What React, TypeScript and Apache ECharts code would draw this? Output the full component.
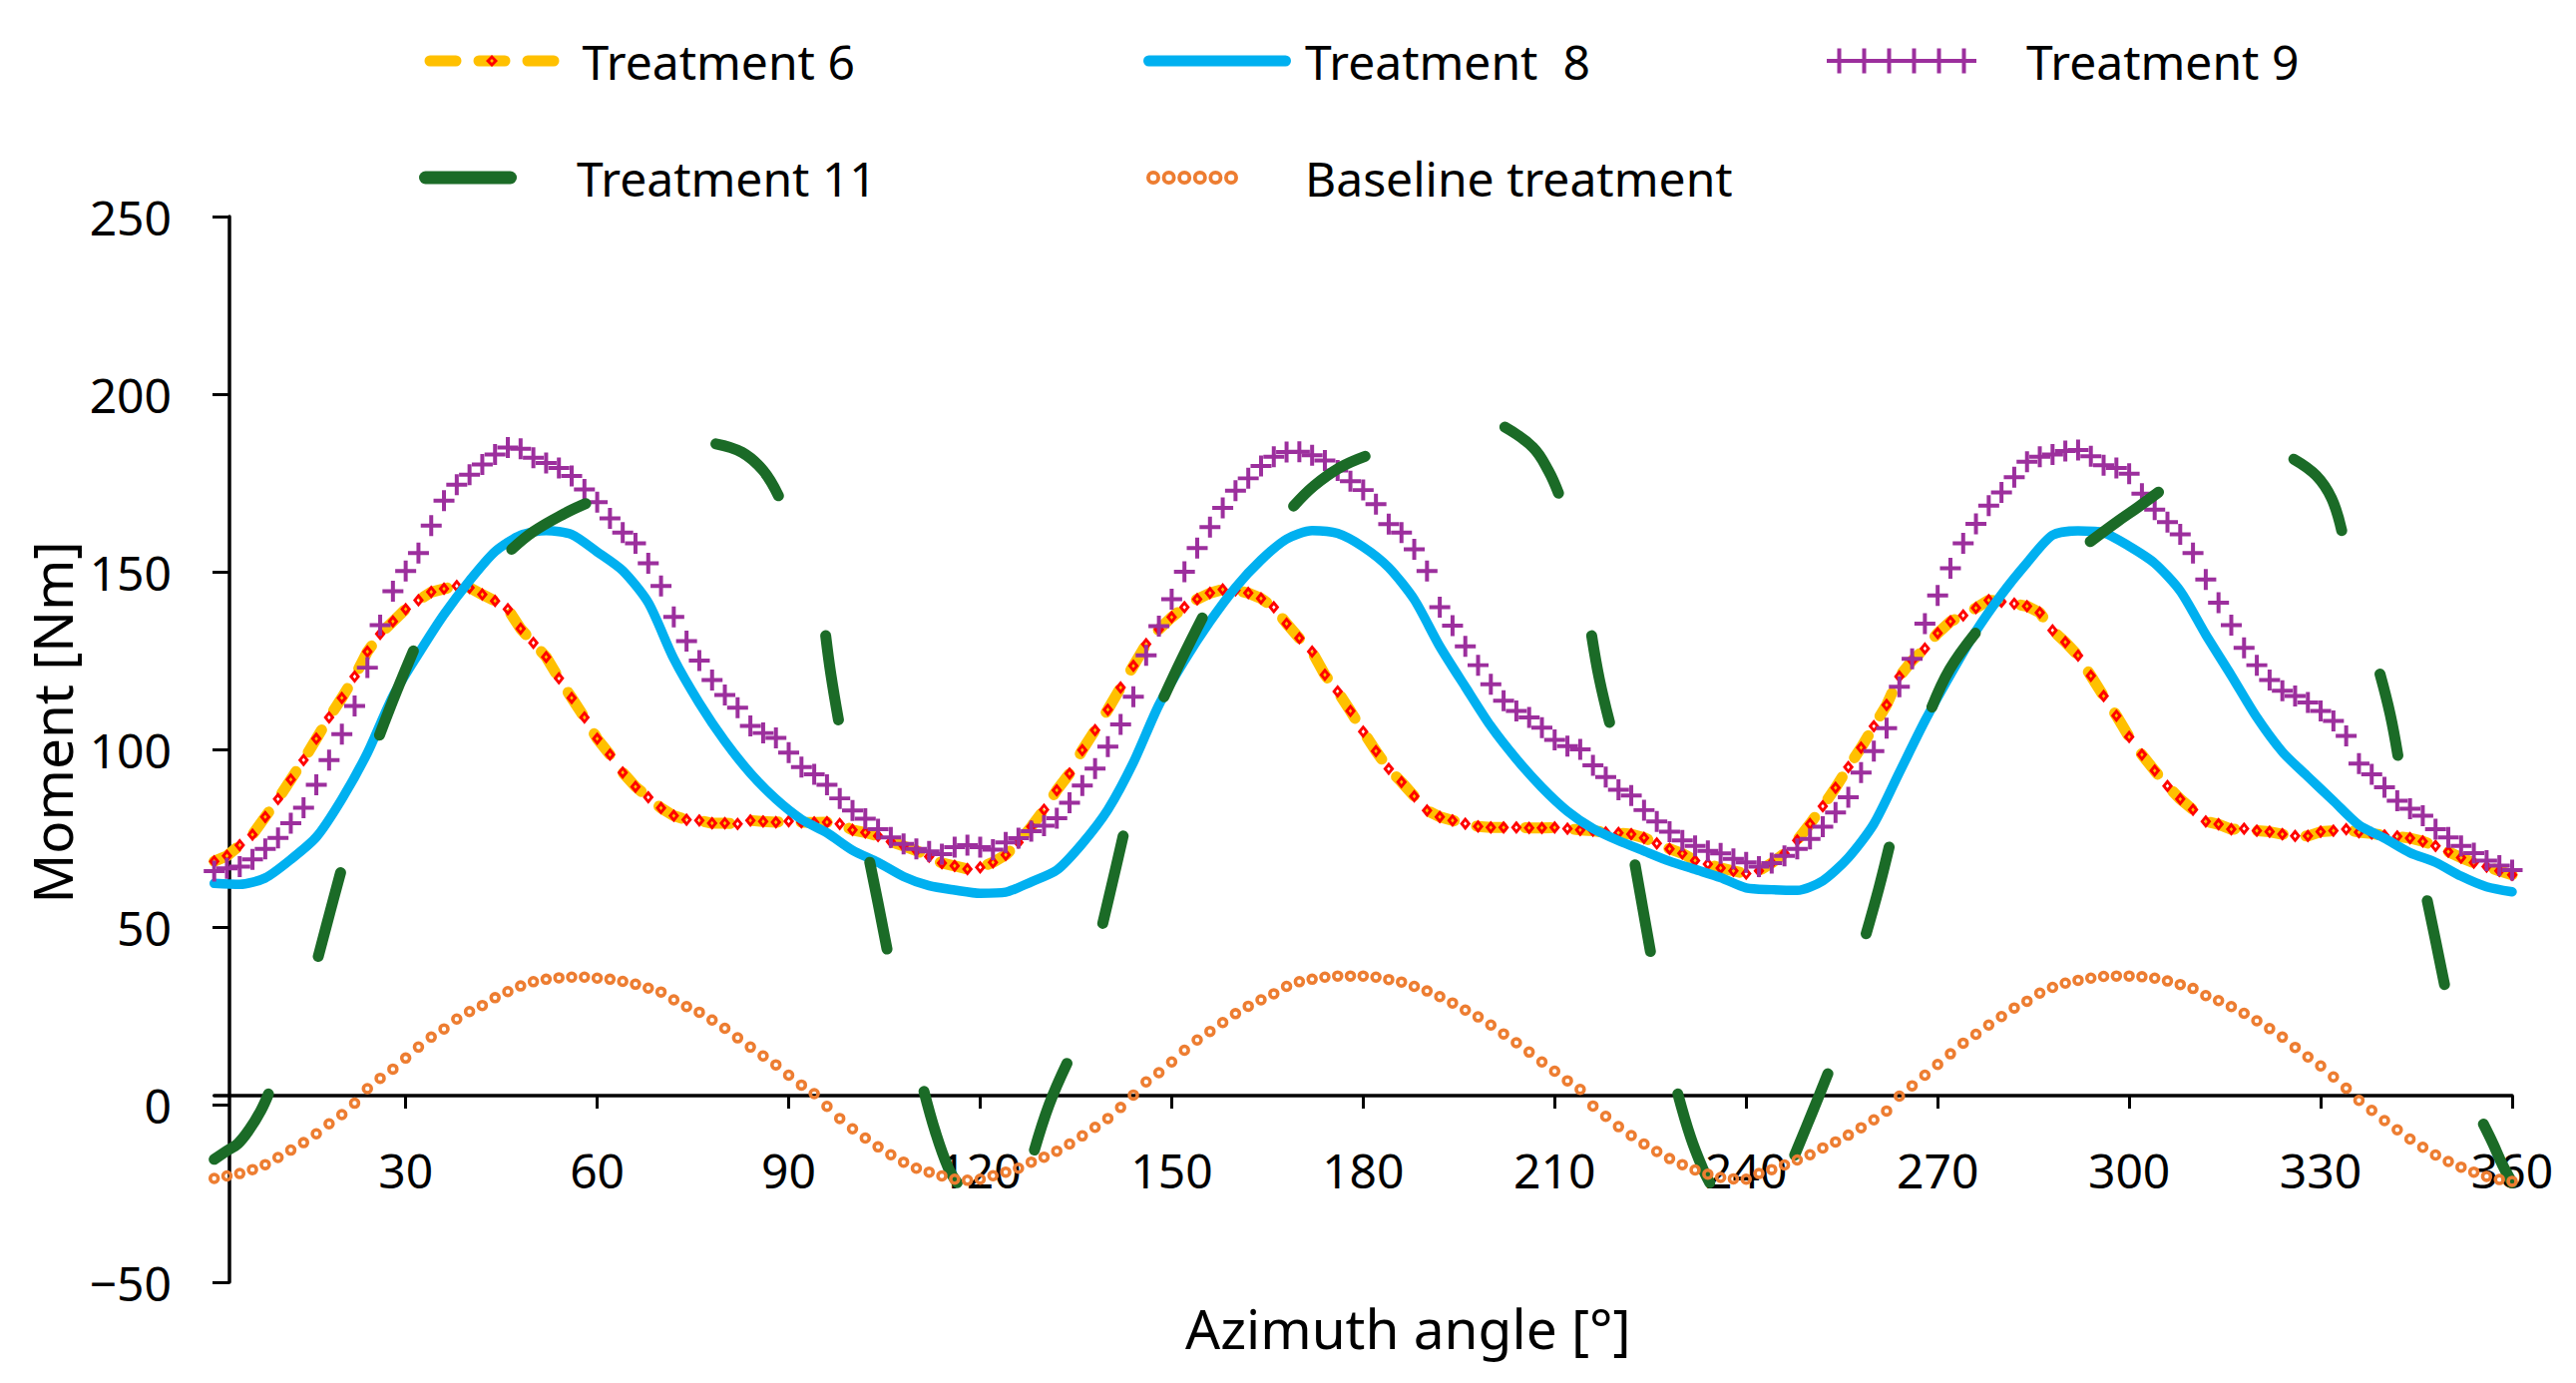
import React, { useEffect, useRef } from "react";
import * as echarts from "echarts";

// x positions (degrees) of sampled points
const ANGLES_2 = Array.from({ length: 181 }, (_, i) => i * 2);
const ANGLES_4 = Array.from({ length: 91 }, (_, i) => i * 4);
const X_TICKS = [30, 60, 90, 120, 150, 180, 210, 240, 270, 300, 330, 360];

// Treatment 6 (every 2 deg)
const T6 = [
  68.5, 70, 73, 76, 81, 86, 91.5, 97, 103, 109, 114.5, 120.5, 127.5, 132.5, 136, 139.5, 142, 144.3, 145.2, 146,
  145.5, 143.6, 141.8, 139.5, 134, 130, 126, 120, 114.5, 109, 103, 98.5, 93.5, 89.5, 86.5, 83.5, 81.3, 80.2, 80, 79.2,
  79.2, 79, 80, 79.7, 79.5, 79.8, 79.5, 79.4, 79.5, 79, 77.3, 76.6, 75.6, 74, 72.8, 71.5, 69.8, 68, 67.2, 66.3, 66.8,
  68.2, 70.3, 73.8, 78.2, 83, 88.5, 93.2, 99.8, 105.4, 111.2, 117.4, 123.5, 129.6, 133.8, 137.2, 140, 142.3, 144, 145, 144.8,
  144, 142.5, 140, 135.4, 131.3, 127.5, 121, 116.3, 110.8, 105, 99.5, 94.5, 90.8, 86.8, 82.8, 81, 80, 79.1, 78.3, 78,
  78, 78, 77.9, 77.9, 78, 77.7, 77.3, 77.1, 76.6, 76.5, 76.1, 75.1, 73.5, 72, 70.7, 68.7, 67.7, 66.6, 65.8, 65,
  65.8, 68, 70.7, 74.4, 79, 84, 89.2, 95, 100.5, 106.5, 112.5, 120.5, 125, 128.4, 132.7, 136, 137.7, 139.8, 142, 141.6,
  141, 140.3, 138.5, 133.5, 130.2, 126.4, 120.7, 115, 109.5, 103.5, 98.5, 94, 89.7, 86, 83, 79.7, 78.9, 77.5, 77.7, 77.1,
  76.8, 76.1, 75.6, 75.6, 76.8, 77.1, 77.5, 76.7, 76.3, 75.8, 75.5, 75, 74.1, 72.8, 71.2, 69.5, 68.1, 67, 65.8, 64.7,
];

// Treatment 8 (every 4 deg)
const T8 = [
  62.3, 62, 63.8, 69, 75.3, 86, 99, 115, 126.9, 138, 147.5, 155.7, 160.3, 161.6, 160.5, 155.6, 150.3, 141.3, 125.5, 113,
  102.3, 93.3, 86, 80.3, 76.5, 71.6, 68.2, 64.2, 61.6, 60.4, 59.5,
  59.8, 62.7, 66, 73.5, 83, 96.3, 112.5, 125, 136, 145.6, 153.3, 159.2, 161.6, 160.8, 157, 151.2, 142.2, 129, 117.6, 106.5,
  97.3, 89.3, 82.6, 77.7, 74.3, 71.4, 68.5, 66.2, 63.9, 61,
  60.5, 60.3, 63, 69.5, 79, 93.5, 108, 121, 133.3, 143.6, 152.5, 160.3, 161.5, 161, 157.2, 152.4, 144.6, 132.3, 120.8, 109,
  99.3, 92.3, 85.5, 78.7, 75, 70.9, 68.2, 64.3, 61.3, 59.9,
];

// Treatment 9 (every 2 deg)
const T9 = [
  65.7, 66.5, 67, 69, 72, 75.1, 79.2, 83.6, 90, 97, 104.3, 112.2, 123, 135, 144.5, 150.2, 155.3, 163, 170, 174.5,
  177.3, 180.2, 183, 185, 184.6, 182.1, 180.6, 179.2, 177, 173.2, 169.6, 165, 161, 158, 152.4, 146, 137.3, 130.5, 125, 119.5,
  115.3, 111.7, 106.6, 104.6, 103.2, 99.1, 95, 93, 90, 86.2, 82.8, 80.5, 77.5, 75.2, 73.4, 72, 71.3, 70.5, 72.5, 73, 72.5,
  71.8, 73.8, 75, 77, 78.5, 80.6, 85, 89.8, 94.6, 100.8, 107, 114.8, 126.5, 134.7, 142.3, 150, 156.7, 162.6, 168, 172.8,
  176.3, 179.8, 182.4, 183.7, 183.8, 182.8, 181.3, 178.5, 175.5, 173, 169, 163.4, 161, 156.3, 150.2, 140, 134.8, 129, 123.7, 118.3,
  113.7, 110.8, 109, 106.1, 102.7, 100.9, 100, 95.5, 92.2, 88.6, 87, 82.9, 79.7, 76.8, 74.4, 72.8, 71.4, 70.7, 69.2, 68.2,
  67, 68, 70, 72, 74.8, 78.2, 82.2, 86.5, 93.5, 99.5, 106, 117.6, 125.5, 135.4, 143.3, 151, 158, 163.5, 168.6, 172.3,
  176.6, 181, 182.4, 183, 184, 184.3, 182.5, 180, 179.2, 177.6, 172, 167.5, 164, 160.5, 155.3, 147.8, 141.3, 135, 128.6, 123.7,
  119.5, 116.5, 115, 113.2, 110.8, 108, 103.8, 96, 93, 89.3, 85.5, 83.3, 81.3, 77.5, 75.2, 72.8, 70.8, 68.7, 67.3, 66,
];

// Baseline treatment (every 2 deg)
const BASELINE = [
  -20.8, -20.1, -19.4, -18.3, -16.9, -14.9, -12.8, -10.7, -8.2, -5.4, -2.8, 0.4, 4.5, 7.4, 10, 13.1, 16.2, 19, 21.3, 24.1,
  26.2, 27.9, 30.1, 31.8, 33.4, 34.6, 35.3, 35.7, 35.9, 35.9, 35.6, 35.3, 34.7, 33.9, 32.8, 31.7, 29.5, 27.6, 26, 23.8,
  21.5, 18.8, 16.2, 13.7, 11.2, 8.3, 5.5, 3.1, -0.5, -3.9, -6.8, -9.4, -11.9, -14.1, -16.2, -17.9, -19, -20.1, -21, -21.3, -21,
  -20, -19, -17.9, -16.2, -14.8, -13.1, -11.1, -8.8, -6.4, -3.9, -0.8, 2.7, 6.4, 9, 12, 15.3, 18.2, 20.6, 23.1, 25.6,
  27.7, 29.5, 31.2, 33.3, 34.6, 35.3, 35.9, 36.2, 36.2, 36.2, 35.9, 35.2, 34.5, 33.3, 32, 30.4, 28.6, 26.6, 24.7, 22.4,
  19.9, 17.4, 14.8, 12, 9.4, 6.7, 4.3, -0.4, -3.3, -6.2, -8.7, -11.1, -13.2, -15.2, -16.9, -18.4, -19.6, -20.5, -20.9, -21,
  -19.4, -18.3, -17, -15.6, -14.1, -12.2, -10.5, -8.6, -6.5, -4.3, -1.8, 2.4, 5.3, 8.3, 11.3, 14.3, 17.3, 19.8, 22.4, 24.8,
  27.2, 29.1, 31.4, 33, 34.2, 35, 35.6, 36.1, 36.2, 36.2, 36, 35.6, 34.8, 33.8, 32.7, 30.7, 29.3, 27.6, 25.7, 23.6,
  21.4, 19, 16.1, 13.4, 10.9, 7.8, 4.6, 1.2, -1.6, -4.5, -7.1, -9.7, -12, -14.2, -16, -17.6, -19, -20.2, -21.1, -21.6,
];

// Treatment 11: visible pieces of the long-dash curve, [angle, moment]
const T11_SEGMENTS = [
  [[0, -15.4], [2, -13], [3.7, -11], [5.5, -7], [7.3, -1.7], [8.5, 3]],
  [[16.3, 41.7], [18.1, 53.9], [19.8, 65.3]],
  [[25.9, 104], [28.5, 116], [31.2, 127.7]],
  [[46.6, 156.3], [50, 161.3], [54.9, 166.4], [58.2, 169.2]],
  [[78.6, 186], [82.7, 183.6], [86, 178.5], [88.4, 171.4]],
  [[95.8, 132], [96.6, 121.2], [97.8, 108.3]],
  [[102.7, 68.2], [104, 56.7], [105.4, 43.8]],
  [[111.2, 3.7], [113, -7.8], [115, -17.8], [116.4, -22]],
  [[128.5, -12.8], [130.8, 0], [133.6, 11.6]],
  [[139.2, 51], [140.8, 63.2], [142.4, 75.6]],
  [[148.8, 114.8], [151.6, 125.5], [154.8, 137]],
  [[169.1, 168.5], [172.3, 174.2], [176.3, 179.3], [180.3, 182.5]],
  [[202.2, 190.7], [206.6, 185], [209, 178.5], [210.6, 172.1]],
  [[215.8, 132], [217, 119.8], [218.6, 107.6]],
  [[222.6, 67.5], [223.8, 55.3], [225, 43.1]],
  [[229.3, 3], [231.3, -9.2], [233.2, -18], [234.3, -22]],
  [[247.6, -14.2], [250.4, -2], [252.8, 8.7]],
  [[258.8, 48.1], [260.8, 61], [262.4, 72.5]],
  [[269.1, 111.9], [271.9, 122.6], [275.9, 132.7]],
  [[293.9, 158.5], [298.2, 164.2], [301.4, 168.2], [304.6, 172.4]],
  [[325.8, 181.7], [329.3, 177.1], [331.7, 170.7], [333.3, 161.6]],
  [[339.3, 121.2], [340.9, 109.8], [342.1, 98.3]],
  [[346.7, 57.4], [348.1, 45.3], [349.4, 33.8]],
  [[355.5, -5.5], [357, -11], [358.5, -17], [360, -22]],
];

const COLORS = {
  t6Line: "#FFC000",
  t6Marker: "#FF0000",
  t8: "#00B0F0",
  t9: "#9C2F9D",
  t11: "#1B6B27",
  base: "#ED7D31",
};

const FONT = "Noto Sans";

function pair(xs: number[], ys: number[]) {
  return ys.map((y, i) => [xs[i], y]);
}

function withBreaks(segs: number[][][]) {
  const out: (number | null)[][] = [];
  segs.forEach((s, i) => {
    if (i > 0) {
      const prev = segs[i - 1];
      out.push([(prev[prev.length - 1][0] + s[0][0]) / 2, null]);
    }
    s.forEach((p) => out.push(p));
  });
  return out;
}

// legend icon shapes
function roundedBar(w: number, h: number) {
  const r = h / 2;
  return `path://M${r},0H${w - r}A${r},${r} 0 0 1 ${w - r},${h}H${r}A${r},${r} 0 0 1 ${r},0Z`;
}
function plusRow(n: number, s: number, t: number) {
  let d = "";
  const c = (s - t) / 2;
  const e = (s + t) / 2;
  for (let i = 0; i < n; i++) {
    const x0 = i * s;
    const a = x0 + c;
    const b = x0 + e;
    d += `M${a},0H${b}V${c}H${x0 + s}V${e}H${b}V${s}H${a}V${e}H${x0}V${c}H${a}Z`;
  }
  return "path://" + d;
}
function ringRow(n: number, dia: number, gap: number, thick: number) {
  let d = "";
  const r = dia / 2;
  const ri = r - thick;
  for (let i = 0; i < n; i++) {
    const cx = r + i * (dia + gap);
    d += `M${cx - r},${r}A${r},${r} 0 1 1 ${cx + r},${r}A${r},${r} 0 1 1 ${cx - r},${r}Z`;
    d += `M${cx - ri},${r}A${ri},${ri} 0 1 0 ${cx + ri},${r}A${ri},${ri} 0 1 0 ${cx - ri},${r}Z`;
  }
  return "path://" + d;
}

// marker shapes (hollow, drawn as filled outlines so the outline weight is kept)
const PLUS_SYMBOL = "path://M8.1,0H11.9V8.1H20V11.9H11.9V20H8.1V11.9H0V8.1H8.1Z";
const DIAMOND_SYMBOL = "path://M5,0L10,6.5L5,13L0,6.5Z M5,4.4L3.4,6.5L5,8.6L6.6,6.5Z";
const RING_SYMBOL = "path://M0,6A6,6 0 1 1 12,6A6,6 0 1 1 0,6Z M3.7,6A2.3,2.3 0 1 0 8.3,6A2.3,2.3 0 1 0 3.7,6Z";

const legendText = (padLeft: number) => ({
  fontSize: 48,
  color: "#000",
  fontFamily: FONT,
  lineHeight: 56,
  padding: [0, 0, 10, padLeft],
});

const ROW1_TOP = 28;
const ROW2_TOP = 145;

const option = {
  animation: false,
  backgroundColor: "#ffffff",
  textStyle: { fontFamily: FONT },
  grid: { left: 214.7, right: 64, top: 217, bottom: 101 },
  legend: [
    {
      data: ["Treatment 6"],
      left: 425.5,
      top: ROW1_TOP,
      padding: 0,
      selectedMode: false,
      itemWidth: 124,
      itemHeight: 15,
      lineStyle: { width: 11 },
      itemStyle: { borderWidth: 0 },
      textStyle: legendText(23.5),
    },
    {
      data: ["Treatment  8"],
      left: 1146,
      top: ROW1_TOP,
      padding: 0,
      selectedMode: false,
      itemWidth: 148,
      itemHeight: 11,
      icon: roundedBar(148, 11),
      itemStyle: { borderWidth: 0 },
      textStyle: legendText(9),
    },
    {
      data: ["Treatment 9"],
      left: 1831,
      top: ROW1_TOP,
      padding: 0,
      selectedMode: false,
      itemWidth: 150,
      itemHeight: 25,
      icon: plusRow(6, 25, 4),
      itemStyle: { borderWidth: 0 },
      textStyle: legendText(45),
    },
    {
      data: ["Treatment 11"],
      left: 420,
      top: ROW2_TOP,
      padding: 0,
      selectedMode: false,
      itemWidth: 98,
      itemHeight: 13,
      icon: roundedBar(98, 13),
      itemStyle: { borderWidth: 0 },
      textStyle: legendText(55),
    },
    {
      data: ["Baseline treatment"],
      left: 1149,
      top: ROW2_TOP,
      padding: 0,
      selectedMode: false,
      itemWidth: 92,
      itemHeight: 14,
      icon: ringRow(6, 14, 1.6, 3.8),
      itemStyle: { borderWidth: 0 },
      textStyle: legendText(62),
    },
  ],
  xAxis: {
    type: "value",
    min: 0,
    max: 360,
    interval: 30,
    position: "bottom",
    offset: -187,
    name: "Azimuth angle [°]",
    nameLocation: "middle",
    nameGap: 205,
    nameTextStyle: { fontSize: 55, color: "#000", fontFamily: FONT, padding: [0, 0, 0, 90] },
    axisLine: { onZero: false, lineStyle: { color: "#000", width: 3.5 } },
    axisTick: { show: true, length: 13, lineStyle: { color: "#000", width: 3 }, customValues: X_TICKS },
    axisLabel: {
      fontSize: 48,
      color: "#000",
      fontFamily: FONT,
      margin: 50,
      customValues: X_TICKS,
    },
    splitLine: { show: false },
  },
  yAxis: {
    type: "value",
    min: -50,
    max: 250,
    interval: 50,
    position: "left",
    offset: -15.3,
    name: "Moment [Nm]",
    nameLocation: "middle",
    nameGap: 143,
    nameTextStyle: { fontSize: 55, color: "#000", fontFamily: FONT, padding: [0, 0, 0, 54] },
    axisLine: { show: true, onZero: false, lineStyle: { color: "#000", width: 3.5 } },
    axisTick: { show: true, length: 17, lineStyle: { color: "#000", width: 3 } },
    axisLabel: {
      fontSize: 48,
      color: "#000",
      fontFamily: FONT,
      margin: 58,
      formatter: (v: number) => (v < 0 ? "\u2212" + Math.abs(v) : String(v)),
    },
    splitLine: { show: false },
  },
  series: [
    {
      name: "Treatment 6",
      type: "line",
      data: pair(ANGLES_2, T6),
      showSymbol: true,
      showAllSymbol: true,
      symbol: DIAMOND_SYMBOL,
      symbolSize: [11, 13.5],
      itemStyle: { color: COLORS.t6Marker, borderWidth: 0 },
      lineStyle: { color: COLORS.t6Line, width: 11, type: [26, 23], cap: "round" },
      emphasis: { disabled: true },
      z: 2,
    },
    {
      name: "Treatment  8",
      type: "line",
      data: pair(ANGLES_4, T8),
      showSymbol: false,
      smooth: 0.25,
      itemStyle: { color: COLORS.t8 },
      lineStyle: { color: COLORS.t8, width: 9.5, cap: "round", join: "round" },
      emphasis: { disabled: true },
      z: 3,
    },
    {
      name: "Treatment 9",
      type: "scatter",
      data: pair(ANGLES_2, T9),
      symbol: PLUS_SYMBOL,
      symbolSize: 21,
      itemStyle: { color: COLORS.t9, opacity: 1 },
      emphasis: { disabled: true },
      z: 4,
    },
    {
      name: "Treatment 11",
      type: "line",
      data: withBreaks(T11_SEGMENTS),
      showSymbol: false,
      connectNulls: false,
      smooth: 0.4,
      itemStyle: { color: COLORS.t11 },
      lineStyle: { color: COLORS.t11, width: 11, cap: "round", join: "round" },
      emphasis: { disabled: true },
      z: 5,
    },
    {
      name: "Baseline treatment",
      type: "scatter",
      data: pair(ANGLES_2, BASELINE),
      symbol: RING_SYMBOL,
      symbolSize: 11.5,
      itemStyle: { color: COLORS.base, opacity: 1 },
      emphasis: { disabled: true },
      z: 6,
    },
  ],
};

export default function App() {
  const ref = useRef<HTMLDivElement>(null);
  useEffect(() => {
    if (!ref.current) return;
    const chart = echarts.init(ref.current, null, { renderer: "svg" });
    chart.setOption(option as any);
    return () => chart.dispose();
  }, []);
  return (
    <div
      ref={ref}
      style={{ position: "fixed", left: 0, top: 0, width: "2582px", height: "1386px", background: "#fff" }}
    />
  );
}
